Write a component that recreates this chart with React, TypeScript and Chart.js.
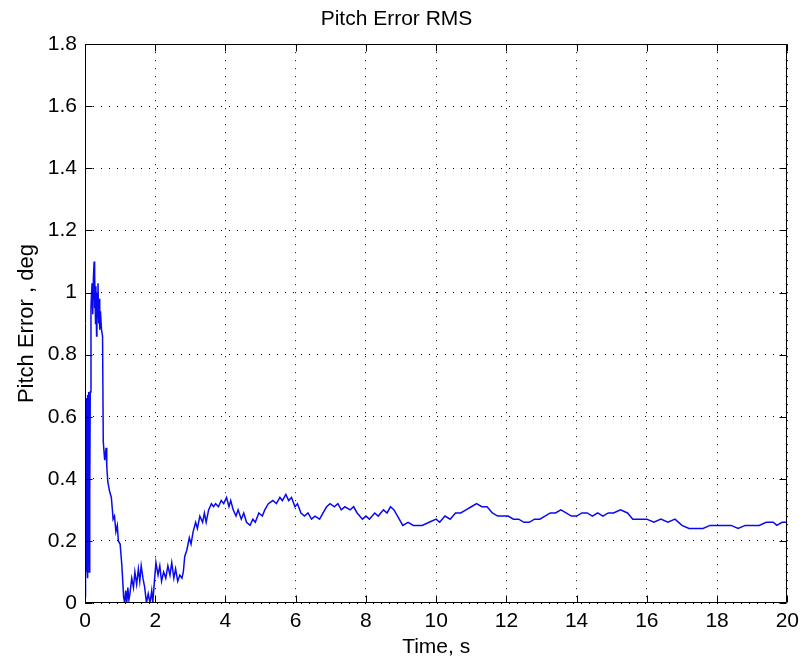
import React, { useEffect, useRef } from "react";
import { Chart, registerables } from "chart.js";

Chart.register(...registerables);

const chartTitle = "Pitch Error RMS";
const xAxisTitle = "Time, s";
const yAxisTitle = "Pitch Error , deg";

const xMin = 0;
const xMax = 20;
const xStep = 2;
const yMin = 0;
const yMax = 1.8;
const yStep = 0.2;

const timeS = [
  0, 0.01, 0.02, 0.03, 0.04, 0.05, 0.06, 0.07, 0.08, 0.09, 0.1, 0.11, 0.12, 0.13, 0.14, 0.15,
  0.17, 0.18, 0.2, 0.22, 0.24, 0.26, 0.27, 0.28, 0.3, 0.31, 0.33, 0.34, 0.36, 0.37, 0.39, 0.4, 0.42, 0.44, 0.47,
  0.5, 0.52, 0.56, 0.6, 0.62, 0.65, 0.7, 0.75, 0.78, 0.8, 0.84, 0.88, 0.92, 0.95, 1.0, 1.05, 1.08, 1.1,
  1.13, 1.16, 1.19, 1.22, 1.25, 1.28, 1.33, 1.38, 1.42, 1.47, 1.52, 1.56, 1.6, 1.65, 1.7, 1.75, 1.8, 1.85,
  1.9, 1.93, 1.97, 2.02, 2.08, 2.13, 2.18, 2.24, 2.3, 2.36, 2.42, 2.47, 2.53, 2.58, 2.64, 2.7, 2.76, 2.8,
  2.84, 2.9, 2.97, 3.02, 3.08, 3.15, 3.2, 3.27, 3.35, 3.4, 3.45, 3.52, 3.6, 3.66, 3.72, 3.8, 3.88, 3.95,
  4.03, 4.1, 4.15, 4.22, 4.3, 4.36, 4.45, 4.52, 4.6, 4.7, 4.78, 4.85, 4.95, 5.05, 5.12, 5.22, 5.35, 5.45,
  5.55, 5.62, 5.72, 5.8, 5.88, 5.98, 6.05, 6.15, 6.25, 6.35, 6.45, 6.55, 6.68, 6.78, 6.88, 6.98, 7.1, 7.2,
  7.3, 7.4, 7.55, 7.65, 7.75, 7.9, 8.0, 8.1, 8.25, 8.35, 8.5, 8.6, 8.7, 8.8, 8.9, 9.05, 9.2, 9.35, 9.6,
  9.8, 10.0, 10.1, 10.25, 10.4, 10.55, 10.7, 10.85, 11.0, 11.15, 11.3, 11.45, 11.6, 11.75, 11.9, 12.05,
  12.2, 12.35, 12.5, 12.65, 12.8, 12.95, 13.1, 13.25, 13.4, 13.55, 13.7, 13.85, 14.0, 14.15, 14.3, 14.45,
  14.6, 14.75, 14.9, 15.05, 15.25, 15.45, 15.6, 15.8, 16.0, 16.2, 16.4, 16.6, 16.8, 17.0, 17.2, 17.4,
  17.6, 17.8, 18.0, 18.2, 18.4, 18.6, 18.8, 19.0, 19.2, 19.4, 19.6, 19.7, 19.85, 20.0,
];

const pitchErrorDeg = [
  0.02, 0.45, 0.08, 0.62, 0.1, 0.66, 0.12, 0.67, 0.08, 0.65, 0.2, 0.68, 0.1, 0.66, 0.35, 0.68,
  0.95, 0.98, 1.03, 0.93, 1.05, 1.1, 0.95, 1.06, 0.9, 1.02, 0.86, 1.0, 0.92, 1.03, 0.9, 0.98, 0.88, 0.94, 0.88,
  0.86, 0.52, 0.46, 0.5, 0.44, 0.39, 0.36, 0.34, 0.3, 0.27, 0.28, 0.23, 0.25, 0.2, 0.19, 0.12, 0.06, 0.02,
  0.0, 0.04, 0.0, 0.05, 0.01, 0.03, 0.08, 0.05, 0.1, 0.06, 0.11, 0.07, 0.12, 0.08, 0.05, 0.0, 0.03, 0.0,
  0.04, 0.0, 0.06, 0.13, 0.09, 0.12, 0.07, 0.1, 0.08, 0.12, 0.09, 0.13, 0.08, 0.11, 0.07, 0.09, 0.08, 0.1,
  0.15, 0.17, 0.21, 0.19, 0.23, 0.26, 0.24, 0.28, 0.26, 0.29, 0.26, 0.3, 0.32, 0.31, 0.32, 0.31, 0.33, 0.32,
  0.34, 0.31, 0.33, 0.3, 0.28, 0.3, 0.27, 0.29, 0.26, 0.25, 0.27, 0.26, 0.29, 0.28, 0.3, 0.32, 0.33, 0.32,
  0.34, 0.33, 0.35, 0.33, 0.34, 0.31, 0.32, 0.29, 0.28, 0.29, 0.27, 0.28, 0.27, 0.29, 0.31, 0.32, 0.31, 0.32,
  0.3, 0.31, 0.3, 0.31, 0.29, 0.27, 0.28, 0.27, 0.29, 0.28, 0.3, 0.29, 0.31, 0.3, 0.28, 0.25, 0.26, 0.25, 0.25,
  0.26, 0.27, 0.26, 0.28, 0.27, 0.29, 0.29, 0.3, 0.31, 0.32, 0.31, 0.31, 0.29, 0.28, 0.28, 0.28,
  0.27, 0.27, 0.26, 0.26, 0.27, 0.27, 0.28, 0.29, 0.29, 0.3, 0.29, 0.28, 0.28, 0.29, 0.29, 0.28,
  0.29, 0.28, 0.29, 0.29, 0.3, 0.29, 0.27, 0.27, 0.27, 0.26, 0.27, 0.26, 0.27, 0.25, 0.24, 0.24,
  0.24, 0.25, 0.25, 0.25, 0.25, 0.24, 0.25, 0.25, 0.25, 0.26, 0.26, 0.25, 0.26, 0.26,
];

const FONT = "'Liberation Sans', Arial, Helvetica, sans-serif";

const framePlugin = {
  id: "matlabFrame",
  afterDatasetsDraw(chart: any) {
    const { ctx, chartArea, scales } = chart;
    const { left, right, top, bottom } = chartArea;
    const tickLen = 7;
    ctx.save();
    ctx.strokeStyle = "#000";
    ctx.lineWidth = 1;
    ctx.beginPath();
    const L = Math.round(left) + 0.5;
    const R = Math.round(right) - 0.5;
    const T = Math.round(top) + 0.5;
    const B = Math.round(bottom) - 0.5;
    ctx.rect(L, T, R - L, B - T);
    scales.x.ticks.forEach((t: any) => {
      const px = Math.round(scales.x.getPixelForValue(t.value)) + 0.5;
      ctx.moveTo(px, B);
      ctx.lineTo(px, B - tickLen);
      ctx.moveTo(px, T);
      ctx.lineTo(px, T + tickLen);
    });
    scales.y.ticks.forEach((t: any) => {
      const py = Math.round(scales.y.getPixelForValue(t.value)) + 0.5;
      ctx.moveTo(L, py);
      ctx.lineTo(L + tickLen, py);
      ctx.moveTo(R, py);
      ctx.lineTo(R - tickLen, py);
    });
    ctx.stroke();
    ctx.restore();
  },
};

export default function App() {
  const canvasRef = useRef<HTMLCanvasElement | null>(null);

  useEffect(() => {
    const canvas = canvasRef.current;
    if (!canvas) return;
    const points = timeS.map((t, i) => ({ x: t, y: pitchErrorDeg[i] }));
    const chart = new Chart(canvas, {
      type: "line",
      data: {
        datasets: [
          {
            label: "Pitch Error RMS",
            data: points,
            borderColor: "#0a0af0",
            borderWidth: 1.5,
            pointRadius: 0,
            tension: 0,
            fill: false,
          },
        ],
      },
      options: {
        animation: false,
        responsive: false,
        maintainAspectRatio: false,
        layout: { padding: { left: 0, right: 12, top: 0, bottom: 0 } },
        plugins: {
          legend: { display: false },
          tooltip: { enabled: false },
          title: {
            display: true,
            text: chartTitle,
            color: "#000",
            font: { family: FONT, size: 21, weight: "normal", lineHeight: 1.2 },
            padding: { top: 7, bottom: 12 },
          },
        },
        scales: {
          x: {
            type: "linear",
            min: xMin,
            max: xMax,
            afterFit: (scale: any) => {
              scale.height = 55;
            },
            ticks: {
              stepSize: xStep,
              color: "#000",
              padding: 6,
              maxRotation: 0,
              font: { family: FONT, size: 21 },
              callback: (v: any) => String(Number(Number(v).toFixed(1))),
            },
            grid: {
              color: "#000",
              lineWidth: 1,
              drawTicks: false,
            },
            border: { display: false, dash: [1, 7] },
            title: {
              display: true,
              text: xAxisTitle,
              color: "#000",
              font: { family: FONT, size: 21, lineHeight: 1 },
              padding: { top: 0, bottom: 0 },
            },
          },
          y: {
            type: "linear",
            min: yMin,
            max: yMax,
            afterFit: (scale: any) => {
              scale.width = 85;
            },
            ticks: {
              stepSize: yStep,
              color: "#000",
              padding: 8,
              font: { family: FONT, size: 21 },
              callback: (v: any) => String(Number(Number(v).toFixed(1))),
            },
            grid: {
              color: "#000",
              lineWidth: 1,
              drawTicks: false,
            },
            border: { display: false, dash: [1, 7] },
            title: {
              display: true,
              text: yAxisTitle,
              color: "#000",
              font: { family: FONT, size: 22, lineHeight: 1.2 },
              padding: { top: 14, bottom: 0 },
            },
          },
        },
      },
      plugins: [framePlugin],
    } as any);
    return () => chart.destroy();
  }, []);

  return (
    <div
      style={{
        position: "fixed",
        left: 0,
        top: 0,
        width: 805,
        height: 658,
        background: "#fff",
      }}
    >
      <canvas ref={canvasRef} width={805} height={658} style={{ display: "block" }} />
    </div>
  );
}
